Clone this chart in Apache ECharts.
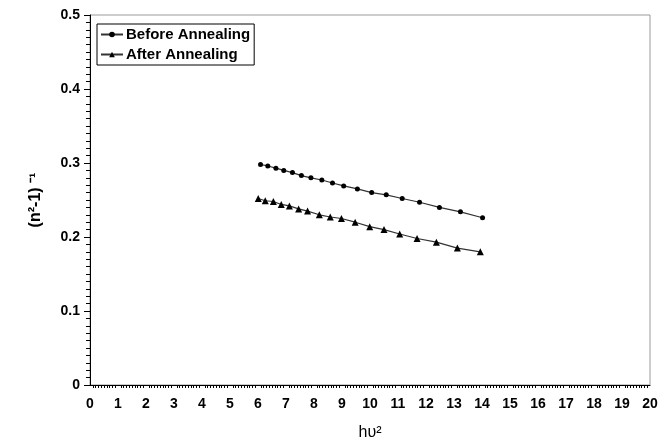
<!DOCTYPE html>
<html><head><meta charset="utf-8">
<script src="https://cdn.jsdelivr.net/npm/echarts@6/dist/echarts.min.js"></script>
<style>html,body{margin:0;padding:0;background:#fff}#c{width:666px;height:446px}</style>
</head><body><div id="c"></div>
<script>
const beforeX = [6.09, 6.35, 6.64, 6.92, 7.23, 7.55, 7.89, 8.28, 8.66, 9.06, 9.55, 10.06, 10.58, 11.15, 11.77, 12.48, 13.23, 14.02];
const beforeY = [0.298, 0.296, 0.293, 0.290, 0.287, 0.283, 0.280, 0.277, 0.273, 0.269, 0.265, 0.260, 0.257, 0.252, 0.247, 0.240, 0.234, 0.226];
const afterX = [6.01, 6.26, 6.55, 6.83, 7.12, 7.45, 7.77, 8.19, 8.58, 8.98, 9.47, 9.99, 10.50, 11.06, 11.68, 12.37, 13.12, 13.94];
const afterY = [0.252, 0.249, 0.248, 0.244, 0.242, 0.238, 0.235, 0.230, 0.227, 0.225, 0.220, 0.214, 0.210, 0.204, 0.198, 0.193, 0.185, 0.180];
const seriesNames = ['Before Annealing', 'After Annealing'];
const xTitle = 'hυ²';
const yTitle = '(n²-1) ⁻¹';

const chart = echarts.init(document.getElementById('c'), null, {renderer: 'canvas'});
const F = 'Liberation Sans, Arial, sans-serif';
chart.setOption({
  animation: false,
  backgroundColor: '#fff',
  grid: {left: 90, right: 16, top: 15, bottom: 60, show: true, borderColor: '#999', borderWidth: 1, containLabel: false},
  legend: {
    show: true, left: 97, top: 24, orient: 'vertical', itemGap: 5,
    itemWidth: 22, itemHeight: 7,
    borderColor: '#000', borderWidth: 1, padding: [3, 4, 3, 3],
    textStyle: {fontFamily: F, fontWeight: 'bold', fontSize: 15, color: '#000', padding: [0,0,0,-2]},
    data: seriesNames
  },
  xAxis: {
    type: 'value', min: 0, max: 20, interval: 1,
    name: xTitle, nameLocation: 'middle', nameGap: 40,
    nameTextStyle: {fontFamily: F, fontSize: 16, color: '#000'},
    axisLine: {show: true, lineStyle: {color: '#000', width: 1}},
    axisTick: {show: false},
    minorTick: {show: true, splitNumber: 10, length: 3, lineStyle: {color: '#000'}},
    splitLine: {show: false},
    axisLabel: {fontFamily: F, fontWeight: 'bold', fontSize: 14, color: '#000', margin: 12}
  },
  yAxis: {
    type: 'value', min: 0, max: 0.5, interval: 0.1,
    name: yTitle, nameLocation: 'middle', nameGap: 46, nameRotate: 90,
    nameTextStyle: {fontFamily: F, fontSize: 16, fontWeight: 'bold', color: '#000'},
    axisLine: {show: true, lineStyle: {color: '#000', width: 1}},
    axisTick: {show: true, inside: false, length: 6, lineStyle: {color: '#000'}},
    minorTick: {show: true, splitNumber: 10, length: 4, lineStyle: {color: '#000'}},
    splitLine: {show: false},
    axisLabel: {fontFamily: F, fontWeight: 'bold', fontSize: 14, color: '#000', margin: 10,
      formatter: v => v === 0 ? '0' : v.toFixed(1)}
  },
  series: [
    {name: seriesNames[0], type: 'line', symbol: 'circle', symbolSize: 5,
     data: beforeX.map((x, i) => [x, beforeY[i]]),
     lineStyle: {color: '#333', width: 1.2}, itemStyle: {color: '#000'}},
    {name: seriesNames[1], type: 'line', symbol: 'triangle', symbolSize: 7,
     data: afterX.map((x, i) => [x, afterY[i]]),
     lineStyle: {color: '#333', width: 1.2}, itemStyle: {color: '#000'}}
  ]
});
</script></body></html>
